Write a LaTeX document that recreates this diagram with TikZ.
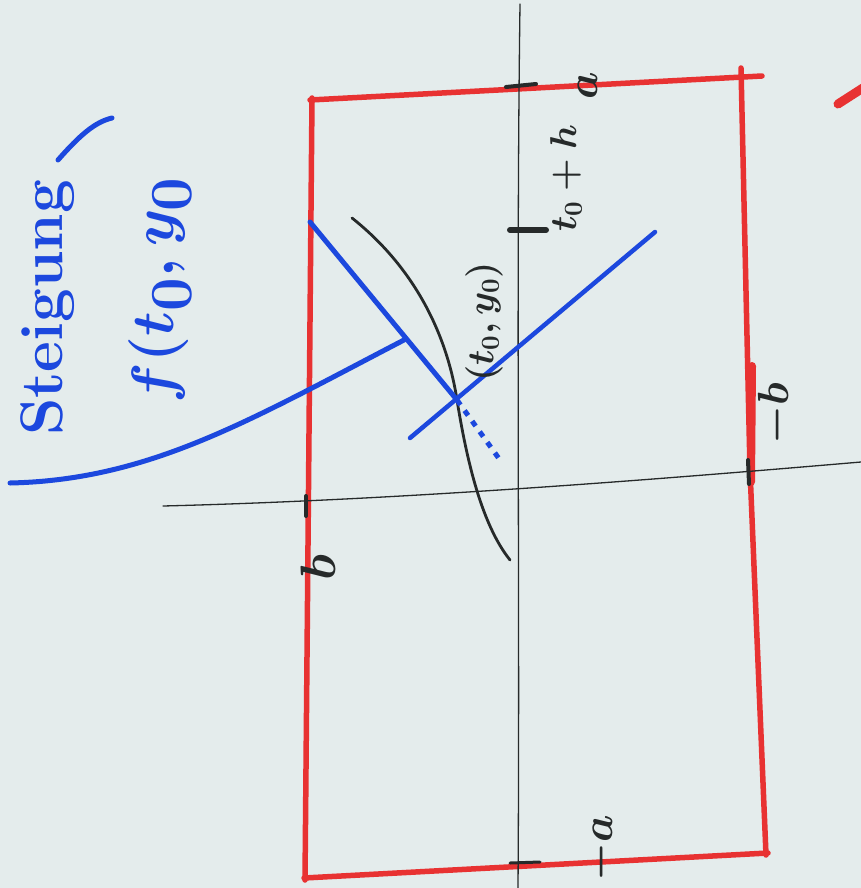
\documentclass[tikz,border=0pt]{standalone}
\usepackage{graphicx}
\usetikzlibrary{calc}
\definecolor{bg}{RGB}{228,236,236}
\definecolor{mred}{RGB}{232,50,50}
\definecolor{mblue}{RGB}{28,72,222}
\definecolor{mblack}{RGB}{38,42,42}
\newcommand{\biglbl}[1]{\scalebox{1.75}{\boldmath$#1$}}
\newcommand{\midlbl}[1]{\scalebox{1.5}{\boldmath$#1$}}
\newcommand{\bigblue}[1]{\scalebox{2.4}{\boldmath$#1$}}
\begin{document}
\begin{tikzpicture}[x=1pt,y=-1pt,
  redpen/.style={draw=mred,line width=5.5pt,line cap=round,line join=round},
  bluepen/.style={draw=mblue,line width=5pt,line cap=round,line join=round},
  blackpen/.style={draw=mblack,line width=2.8pt,line cap=round},
  axisline/.style={draw=mblack,line width=1.3pt,line cap=round},
  tickmark/.style={draw=mblack,line width=5pt,line cap=round},
  lbl/.style={text=mblack,rotate=90,inner sep=0pt,font=\fontsize{24}{28}\selectfont},
  bluetxt/.style={text=mblue,rotate=90,inner sep=0pt,font=\fontsize{60}{70}\selectfont\bfseries}]
\fill[bg] (0,0) rectangle (861,888);
\useasboundingbox (0,0) rectangle (861,888);
% red rectangle
\coordinate (tl) at (310,100);
\coordinate (tr) at (762,76);
\coordinate (rt) at (741,68);
\coordinate (rm) at (750,470);
\coordinate (rb) at (766,855);
\coordinate (lt) at (312,98);
\coordinate (lb) at (305,880);
\coordinate (bl) at (304,878);
\coordinate (br) at (768,853);
\draw[redpen] (tl) -- (tr);
\draw[redpen] (rt) -- (rm) -- (rb);
\draw[redpen] (lt) -- (lb);
\draw[redpen] (bl) -- (br);
\coordinate (th1) at (752,366);
\coordinate (th2) at (751,482);
\draw[redpen,line width=8pt] (th1) -- (th2);
\coordinate (rd1) at (838,104);
\coordinate (rd2) at (866,86);
\draw[redpen,line width=9pt] (rd1) -- (rd2);
% axes
\coordinate (vt) at (520,4);
\coordinate (vb) at (518,888);
\draw[axisline] (vt) .. controls (516,300) and (520,600) .. (vb);
\coordinate (hl) at (163,506);
\coordinate (hr) at (861,462);
\draw[axisline] (hl) .. controls (400,500) and (650,480) .. (hr);
% ticks
\draw[tickmark,line width=4pt] (306,496) -- (306,516);
\draw[tickmark,line width=4pt] (748,460) -- (749,484);
\draw[tickmark,line width=4pt] (506,87) -- (536,84);
\draw[tickmark,line width=3pt] (510,863) -- (540,862);
\draw[tickmark,line width=6pt] (510,230) -- (546,230);
% solution curve
\coordinate (c1) at (352,218);
\coordinate (p0) at (457,400);
\coordinate (c2) at (510,560);
\draw[blackpen] (c1) .. controls (415,268) and (447,335) .. (p0) .. controls (467,462) and (482,525) .. (c2);
% blue lines
\coordinate (ta) at (310,222);
\coordinate (tb) at (500,460);
\draw[bluepen] (ta) -- (p0);
\draw[bluepen,dash pattern=on 6pt off 7pt,line cap=butt] (p0) -- (tb);
\coordinate (na) at (410,438);
\coordinate (nb) at (655,232);
\draw[bluepen,line width=4.5pt] (na) -- (nb);
\coordinate (ps) at (10,483);
\coordinate (pe) at (404,340);
\draw[bluepen] (ps) .. controls (150,480) and (250,420) .. (pe);
\coordinate (bl1) at (58,160);
\coordinate (bl2) at (112,118);
\draw[bluepen] (bl1) .. controls (80,135) and (95,122) .. (bl2);
% labels
\node[lbl] (la) at (588,86) {\biglbl{a}};
\node[lbl] (lma) at (602,848) {\biglbl{-a}};
\node[lbl] (lb) at (318,568) {\scalebox{2}{\boldmath$b$}};
\node[lbl] (lmb) at (776,414) {\biglbl{-b}};
\node[lbl] (lh) at (566,178) {\midlbl{t_0+h}};
\node[lbl] (lp) at (484,322) {\midlbl{(t_0,y_0)}};
% blue text
\node[bluetxt] (s1) at (48,308) {Steigung};
\node[bluetxt] (s2) at (160,290) {\bigblue{f(t_0,y_0}};
\end{tikzpicture}
\end{document}
